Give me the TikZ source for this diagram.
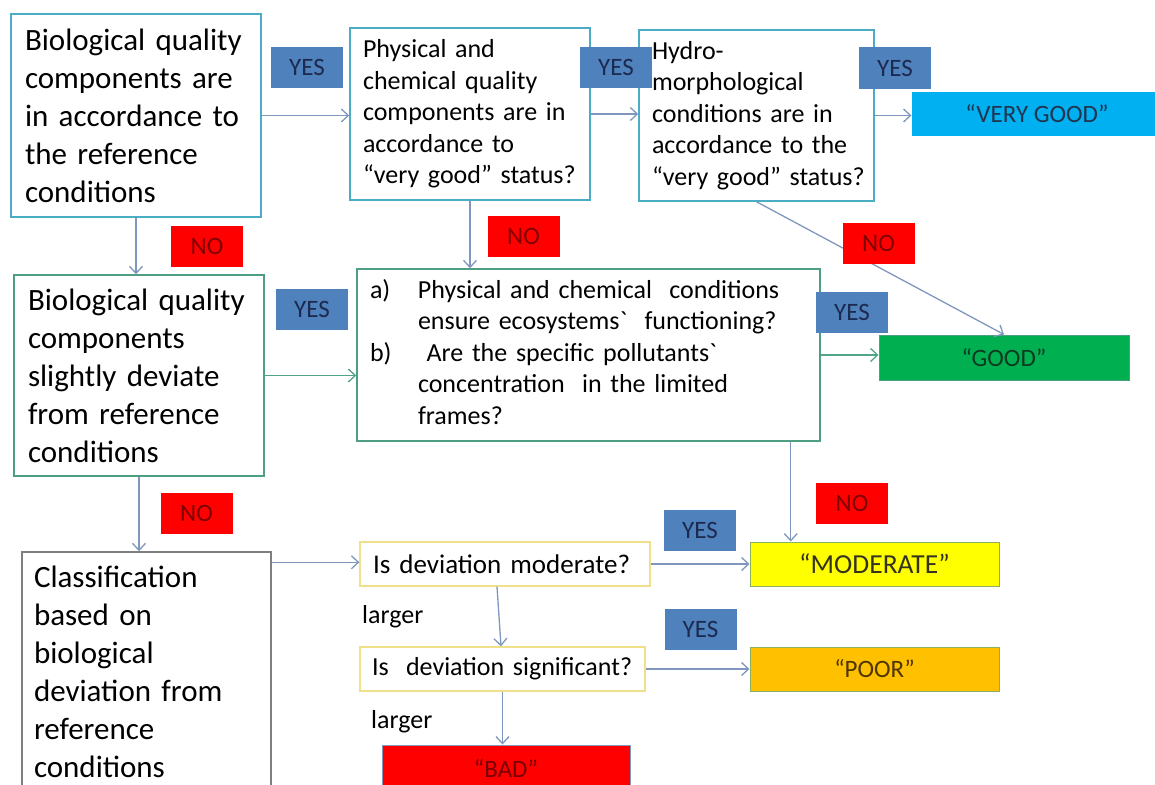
\documentclass[tikz,border=0pt]{standalone}
\usepackage{fontspec}
\setmainfont{Carlito}
\usetikzlibrary{arrows.meta}
\definecolor{bluebord}{HTML}{4BACC6}
\definecolor{greenbord}{HTML}{4E9F82}
\definecolor{graybord}{HTML}{7F7F7F}
\definecolor{yelbord}{HTML}{F0E08A}
\definecolor{arrowc}{HTML}{8097BD}
\definecolor{arrowg}{HTML}{4FA585}
\definecolor{yesfill}{HTML}{4F81BD}
\definecolor{yestext}{HTML}{1C2A4F}
\definecolor{nofill}{HTML}{FF0000}
\definecolor{notext}{HTML}{800000}
\definecolor{vgfill}{HTML}{00B0F0}
\definecolor{vgtext}{HTML}{1F3550}
\definecolor{goodfill}{HTML}{00B050}
\definecolor{goodtext}{HTML}{0D3B22}
\definecolor{modfill}{HTML}{FFFF00}
\definecolor{modtext}{HTML}{333320}
\definecolor{poorfill}{HTML}{FFC000}
\definecolor{poortext}{HTML}{4F3500}
\definecolor{badfill}{HTML}{FF0000}
\definecolor{badtext}{HTML}{7A0000}
\definecolor{resbord}{HTML}{8DB060}
\newcommand{\bigf}{\fontsize{31pt}{38pt}\selectfont}
\newcommand{\midf}{\fontsize{26pt}{31.5pt}\selectfont}
\newcommand{\lblf}{\fontsize{25pt}{29pt}\selectfont}
\newcommand{\largf}{\fontsize{26pt}{30pt}\selectfont}
\newcommand{\resf}{\fontsize{25pt}{30pt}\selectfont}
\begin{document}
\hyphenpenalty=10000
\begin{tikzpicture}[x=1pt,y=-1pt,
  qbox/.style={draw, line width=1.5pt, fill=white, align=left, inner ysep=0pt},
  bluebox/.style={qbox, draw=bluebord},
  greenbox/.style={qbox, draw=greenbord},
  graybox/.style={qbox, draw=graybord},
  yelbox/.style={qbox, draw=yelbord, line width=1.3pt},
  result/.style={draw, line width=1pt, inner sep=0pt, font=\resf, align=center},
  yeslbl/.style={fill=yesfill, text=yestext, font=\lblf, inner sep=0pt, minimum width=72pt, minimum height=41pt},
  nolbl/.style={fill=nofill, text=notext, font=\lblf, inner sep=0pt, minimum width=72pt, minimum height=41pt},
  arr/.style={draw=arrowc, line width=1.3pt, -{Straight Barb[length=7pt,width=13pt]}},
  garr/.style={arr, draw=arrowg}
]
\useasboundingbox (0,0) rectangle (1155,784);

% question boxes
\node[bluebox, font=\bigf, text width=222pt, inner xsep=14pt, minimum height=203pt] (A) at (136,115.5)
  {Biological quality\\components are\\in accordance to\\the reference\\conditions};
\node[bluebox, font=\midf, text width=214pt, inner xsep=13pt, minimum height=172pt] (B) at (470,114)
  {Physical and\\chemical quality\\components are in\\accordance to\\\mbox{“very good” status?}};
\node[bluebox, font=\midf, text width=209pt, inner xsep=13pt, minimum height=171pt] (C) at (756.5,115.5)
  {Hydro-\\morphological\\conditions are in\\\mbox{accordance to the}\\\mbox{“very good” status?}};
\node[greenbox, font=\bigf, text width=222pt, inner xsep=14pt, minimum height=201pt] (D) at (139,375.5)
  {Biological quality\\components\\slightly deviate\\from reference\\conditions};
\node[greenbox, font=\midf, text width=437pt, inner xsep=13pt, minimum height=172pt] (E) at (588.5,355)
  {\begin{tabular}{@{}p{48pt}@{}l@{}}
  a) & Physical and chemical\ \ conditions\\
     & ensure ecosystems\textasciigrave\ \ functioning?\\
  b) & \ Are the specific pollutants\textasciigrave\\
     & concentration\ \ in the limited\\
     & frames?
  \end{tabular}};
\node[graybox, font=\bigf, text width=225pt, inner xsep=12pt, minimum height=239pt] (F) at (146.5,671.5)
  {Classification\\based on\\biological\\deviation from\\reference\\conditions};
\node[yelbox, font=\fontsize{27pt}{31pt}\selectfont, text width=264pt, inner xsep=13pt, minimum height=44pt] (G) at (505,564)
  {Is deviation moderate?};
\node[yelbox, font=\midf, text width=261pt, inner xsep=12pt, minimum height=44pt] (H) at (502.5,669)
  {Is\ \ deviation significant?};

% results
\node[result, draw=none, fill=vgfill, text=vgtext, minimum width=250pt, minimum height=44pt] (VG) at (1037,114) {“VERY GOOD”};
\node[result, draw=greenbord, fill=goodfill, text=goodtext, minimum width=250pt, minimum height=45pt] (GOOD) at (1004,357.5) {“GOOD”};
\node[result, draw=resbord, fill=modfill, text=modtext, minimum width=249pt, minimum height=44pt, font=\fontsize{27.5pt}{32pt}\selectfont] (MOD) at (874.5,564) {“MODERATE”};
\node[result, draw=resbord, fill=poorfill, text=poortext, minimum width=249pt, minimum height=44pt] (POOR) at (874.5,669) {“POOR”};
\node[result, draw=arrowc, fill=badfill, text=badtext, minimum width=248pt, minimum height=46pt] (BAD) at (506,768) {“BAD”};

% free labels
\node[anchor=west, font=\largf, inner sep=0pt] (L1) at (362,617) {larger};
\node[anchor=west, font=\largf, inner sep=0pt] (L2) at (371,722) {larger};

% connectors
\draw[arr] (A.east) -- (A.east -| B.west);
\draw[arr] (B.east) -- (B.east -| C.west);
\draw[arr] (C.east) -- (C.east -| VG.west);
\draw[arr] (A.south) -- (A.south |- D.north);
\draw[arr] (B.south) -- (B.south |- E.north);
\draw[arr] (C.south) -- (GOOD.north);
\draw[garr] (D.east) -- (D.east -| E.west);
\draw[garr] (E.east) -- (E.east -| GOOD.west);
\draw[arr] ([xshift=-30pt]E.south east) -- ([xshift=-30pt]E.south east |- MOD.north);
\draw[arr] (D.south) -- (D.south |- F.north);
\draw[arr] ([yshift=-11pt]F.north east) -- ([yshift=-11pt]F.north east -| G.west);
\draw[arr] (G.east) -- (G.east -| MOD.west);
\draw[arr] ([xshift=-8pt]G.south) -- ([xshift=-1.5pt]H.north);
\draw[arr] (H.east) -- (H.east -| POOR.west);
\draw[arr] (H.south) -- (H.south |- BAD.north);

% YES / NO labels
\node[yeslbl] (Y1) at (307,67.5) {YES};
\node[yeslbl] (Y2) at (616,67.5) {YES};
\node[yeslbl] (Y3) at (895,68) {YES};
\node[yeslbl] (Y4) at (312,309.5) {YES};
\node[yeslbl] (Y5) at (852,312.5) {YES};
\node[yeslbl] (Y6) at (700,530.5) {YES};
\node[yeslbl] (Y7) at (700.5,629.5) {YES};
\node[nolbl] (N1) at (207,246) {NO};
\node[nolbl] (N2) at (523.5,236) {NO};
\node[nolbl] (N3) at (878.5,243.5) {NO};
\node[nolbl] (N4) at (196.5,513) {NO};
\node[nolbl] (N5) at (852,503) {NO};
\end{tikzpicture}
\end{document}
